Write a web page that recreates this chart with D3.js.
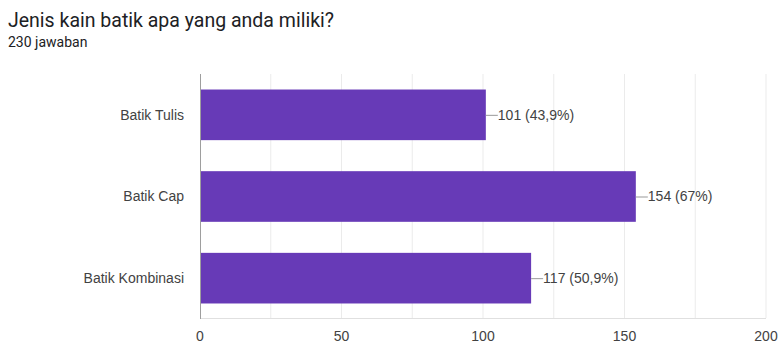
<html><head>
<script src="https://d3js.org/d3.v7.min.js"></script>
<style>
  body { margin: 0; background: #fff; }
  text.title { font-family: Roboto, sans-serif; font-size: 19.5px; fill: #202124; }
  text.sub { font-family: Roboto, sans-serif; font-size: 14px; fill: #202124; }
  .chart text { font-family: "Liberation Sans", Arial, sans-serif; font-size: 14px; fill: #424242; }
</style>
</head>
<body>
<svg id="chart" width="778" height="345"></svg>
<script>

// values
const categories = ["Batik Tulis", "Batik Cap", "Batik Kombinasi"];
const counts = [101, 154, 117];
const percents = ["43,9%", "67%", "50,9%"];
const xTicks = [0, 50, 100, 150, 200];
const gridTicks = [25, 50, 75, 100, 125, 150, 175, 200];

let svg = d3.select("#chart");

svg.append("text").attr("class", "title").attr("x", 8).attr("y", 27)
   .text("Jenis kain batik apa yang anda miliki?");
svg.append("text").attr("class", "sub").attr("x", 8).attr("y", 47)
   .text("230 jawaban");

let chartLayer = svg.append("g").attr("class", "chart");

const xScale = d3.scaleLinear().domain([0, 200]).range([200, 766]);
const yScale = d3.scaleBand().domain(categories).range([74, 319])
                 .paddingInner(0.38).paddingOuter(0.19);

// grid lines
chartLayer.selectAll("line.grid").data(gridTicks)
  .join("line").attr("class", "grid")
  .attr("x1", d => xScale(d)).attr("x2", d => xScale(d))
  .attr("y1", 74).attr("y2", 318)
  .attr("stroke", "#ebebeb").attr("stroke-width", 1);

// bottom line
chartLayer.append("line")
  .attr("x1", xScale(0)).attr("x2", xScale(200))
  .attr("y1", 318.5).attr("y2", 318.5)
  .attr("stroke", "#e0e0e0");

const rows = categories.map((c, i) => ({cat: c, value: counts[i], pct: percents[i]}));

chartLayer.selectAll("rect.bar").data(rows)
  .join("rect").attr("class", "bar")
  .attr("x", xScale(0))
  .attr("y", d => yScale(d.cat))
  .attr("width", d => xScale(d.value) - xScale(0))
  .attr("height", yScale.bandwidth())
  .attr("fill", "#673ab7");

// left axis line
chartLayer.append("line")
  .attr("x1", xScale(0) + 0.5).attr("x2", xScale(0) + 0.5)
  .attr("y1", 74).attr("y2", 319)
  .attr("stroke", "#9e9e9e");

// leader lines + value labels
chartLayer.selectAll("line.lead").data(rows)
  .join("line").attr("class", "lead")
  .attr("x1", d => xScale(d.value)).attr("x2", d => xScale(d.value) + 12)
  .attr("y1", d => yScale(d.cat) + yScale.bandwidth() / 2 + 0.5)
  .attr("y2", d => yScale(d.cat) + yScale.bandwidth() / 2 + 0.5)
  .attr("stroke", "#999");

chartLayer.selectAll("text.val").data(rows)
  .join("text").attr("class", "val")
  .attr("x", d => xScale(d.value) + 12)
  .attr("y", d => yScale(d.cat) + yScale.bandwidth() / 2)
  .attr("dy", "0.35em")
  .text(d => d.value + " (" + d.pct + ")");

// category labels
chartLayer.selectAll("text.cat").data(rows)
  .join("text").attr("class", "cat")
  .attr("x", 184)
  .attr("y", d => yScale(d.cat) + yScale.bandwidth() / 2)
  .attr("dy", "0.35em")
  .attr("text-anchor", "end")
  .text(d => d.cat);

// x tick labels
chartLayer.selectAll("text.tick").data(xTicks)
  .join("text").attr("class", "tick")
  .attr("x", d => xScale(d))
  .attr("y", 341)
  .attr("text-anchor", "middle")
  .text(d => d);

</script>
</body>
</html>
